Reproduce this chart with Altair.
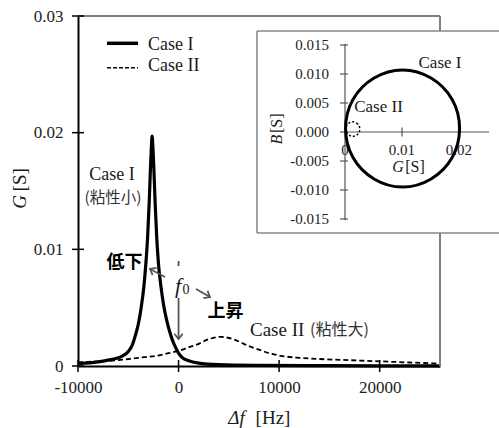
import altair as alt
import pandas as pd

# ---------------- data ----------------
# Main plot: conductance G [S] versus frequency shift Δf [Hz]
case1_f = [-10000, -8000, -7000, -6000, -5500, -5000, -4600, -4300, -4000, -3700, -3450, -3250,
           -3080, -2920, -2800, -2700, -2630, -2560, -2450, -2330, -2170, -2000, -1750, -1500,
           -1200, -900, -600, -300, 0, 400, 1000, 2000, 4000, 8000, 15000, 26000]
case1_g = [0.0002, 0.00035, 0.0005, 0.0007, 0.0009, 0.00125, 0.0018, 0.0026, 0.0036, 0.0051,
           0.0068, 0.0088, 0.0110, 0.0140, 0.0168, 0.0188, 0.0197, 0.0189, 0.0168, 0.0140,
           0.0110, 0.0088, 0.0068, 0.0053, 0.0040, 0.0030, 0.0022, 0.0016, 0.0011, 0.0007,
           0.00045, 0.00025, 0.00012, 0.00006, 0.00003, 0.00001]
case2_f = [-10000, -8000, -6000, -4000, -2000, -1000, 0, 1000, 2000, 3000, 4200, 5000, 6000,
           7000, 8000, 9000, 10000, 12000, 14000, 17000, 20000, 23000, 26000]
case2_g = [0.0003, 0.0004, 0.0005, 0.0007, 0.0009, 0.0011, 0.0013, 0.0016, 0.0019, 0.0023,
           0.0025, 0.0024, 0.0021, 0.0017, 0.0014, 0.0011, 0.0009, 0.0007, 0.0006, 0.0005,
           0.0004, 0.0003, 0.0002]

# Inset: admittance circles, B [S] versus G [S]
circ1_G = [0.0201, 0.0188, 0.0151, 0.0101, 0.0051, 0.0014, 0.0001, 0.0014, 0.0051, 0.0101, 0.0151, 0.0188]
circ1_B = [0.0006, 0.0056, 0.0093, 0.0107, 0.0093, 0.0056, 0.0006, -0.0044, -0.0081, -0.0095, -0.0081, -0.0044]
circ2_G = [0.0026, 0.00223, 0.00135, 0.00047, 0.0001, 0.00047, 0.00135, 0.00223]
circ2_B = [0.0005, 0.00138, 0.00175, 0.00138, 0.0005, -0.00038, -0.00075, -0.00038]

# tick values / labels
x_ticks = [-10000, 0, 10000, 20000]
y_ticks = [0, 0.01, 0.02, 0.03]
inset_y_ticks = [-0.015, -0.01, -0.005, 0, 0.005, 0.01, 0.015]
inset_y_labels = ["-0.015", "-0.010", "-0.005", "0.000", "0.005", "0.010", "0.015"]
inset_x_ticks = [0.01, 0.02]
inset_x_label_vals = [0, 0.01, 0.02]
inset_x_labels = ["0", "0.01", "0.02"]

SERIF = "Liberation Serif"
CJK = "Noto Sans CJK JP"
INK = "#1a1a1a"
ARROW = "#555555"

XS = alt.Scale(domain=[-10000, 26000], nice=False, zero=False)
YS = alt.Scale(domain=[0, 0.03], nice=False, zero=False)
XI = alt.Scale(domain=[-0.046842, 0.016667], nice=False, zero=False)
YI = alt.Scale(domain=[-0.040345, 0.02], nice=False, zero=False)

XAX = alt.Axis(values=x_ticks, labelExpr="'' + datum.value", ticks=False, tickSize=0,
               labelPadding=13, labelFont=SERIF, labelFontSize=17, labelColor="#222",
               domainColor="black", domainWidth=2, grid=False, title=None,
               labelFlush=False, labelOverlap=False)
YAX = alt.Axis(values=y_ticks, labelExpr="'' + datum.value", ticks=False, tickSize=0,
               labelPadding=15, labelFont=SERIF, labelFontSize=17, labelColor="#222",
               domainColor="black", domainWidth=2, grid=False, title=None,
               labelFlush=False, labelOverlap=False)


def mx(f):
    return alt.X(f, type="quantitative", scale=XS, axis=XAX)


def my(f):
    return alt.Y(f, type="quantitative", scale=YS, axis=YAX)


def ix(f):
    return alt.X(f, type="quantitative", scale=XI, axis=None)


def iy(f):
    return alt.Y(f, type="quantitative", scale=YI, axis=None)


# ---------------- main plot ----------------
df1 = pd.DataFrame({"f": case1_f, "g": case1_g})
df2 = pd.DataFrame({"f": case2_f, "g": case2_g})

line2 = alt.Chart(df2).mark_line(color="black", strokeWidth=1.8, strokeDash=[5, 3],
                                 interpolate="monotone").encode(x=mx("f"), y=my("g"))
line1 = alt.Chart(df1).mark_line(color="black", strokeWidth=3.2, interpolate="monotone").encode(
    x=mx("f"), y=my("g"))

frame_df = pd.DataFrame({"x": [-10000, 26000], "y": [0.03, 0.0],
                         "x2": [26000, 26000], "y2": [0.03, 0.03]})
frame = alt.Chart(frame_df).mark_rule(color="#808080", strokeWidth=2).encode(
    x=mx("x"), y=my("y"), x2="x2:Q", y2="y2:Q")

xt = alt.Chart(pd.DataFrame({"x": x_ticks, "y": [0] * len(x_ticks)})).mark_tick(
    orient="vertical", size=12, thickness=1.5, color="black", opacity=1).encode(x=mx("x"), y=my("y"))
yt = alt.Chart(pd.DataFrame({"x": [-10000] * len(y_ticks), "y": y_ticks})).mark_tick(
    orient="horizontal", size=12, thickness=1.5, color="black", opacity=1).encode(x=mx("x"), y=my("y"))

# legend
leg_df = pd.DataFrame({"x": [-7116, -7116], "x2": [-4033, -4033], "y": [0.02766, 0.02557]})
leg_solid = alt.Chart(leg_df.iloc[[0]]).mark_rule(color="black", strokeWidth=3.5).encode(
    x=mx("x"), x2="x2:Q", y=my("y"))
leg_dash = alt.Chart(leg_df.iloc[[1]]).mark_rule(color="black", strokeWidth=1.6, strokeDash=[4, 2]).encode(
    x=mx("x"), x2="x2:Q", y=my("y"))
leg_txt = alt.Chart(pd.DataFrame({"x": [-3039, -3039], "y": [0.02751, 0.02571],
                                  "t": ["Case I", "Case II"]})).mark_text(
    align="left", font=SERIF, fontSize=18, color=INK).encode(x=mx("x"), y=my("y"), text="t:N")


def txt(rows, **kw):
    d = pd.DataFrame(rows, columns=["x", "y", "t"])
    return alt.Chart(d).mark_text(**kw).encode(x=mx("x"), y=my("y"), text="t:N")


ann_case1 = txt([[-6619, 0.01640, "Case I"]], font=SERIF, fontSize=18, color=INK)
ann_case1b = txt([[-6519, 0.01440, "(粘性小)"]], font=CJK, fontSize=15.5, color="#333")
ann_case2 = txt([[7105, 0.00309, "Case II"]], font=SERIF, fontSize=19, color=INK, align="left")
ann_case2b = txt([[13072, 0.00309, "(粘性大)"]], font=CJK, fontSize=16, color="#333", align="left")
ann_bold = txt([[-5376, 0.00879, "低下"], [4669, 0.00459, "上昇"]], font=CJK, fontSize=18,
               fontWeight="bold", color="black")
ann_f = txt([[-55, 0.00686, "f"]], font=SERIF, fontSize=22, fontStyle="italic", color=INK)
ann_f0 = txt([[740, 0.00650, "0"]], font=SERIF, fontSize=14, color=INK)

# axis titles
tit_G = txt([[-15768, 0.01406, "G"]], font=SERIF, fontSize=19, fontStyle="italic", color=INK, angle=270)
tit_S = txt([[-15768, 0.01596, "[S]"]], font=SERIF, fontSize=19, color=INK, angle=270)
tit_df = txt([[5762, -0.00446, "Δf"]], font=SERIF, fontSize=19, fontStyle="italic", color=INK)
tit_hz = txt([[9392, -0.00446, "[Hz]"]], font=SERIF, fontSize=19, color=INK)

# arrows
arr_df = pd.DataFrame({
    "x": [-1348, 1735, 0, 0], "y": [0.00763, 0.0066, 0.00583, 0.00900],
    "x2": [-2840, 3127, 0, 0], "y2": [0.00831, 0.00591, 0.00231, 0.00857],
})
arr_lines = alt.Chart(arr_df).mark_rule(color=ARROW, strokeWidth=1.8).encode(
    x=mx("x"), y=my("y"), x2="x2:Q", y2="y2:Q")
CHEV = "M -1 -0.8 L 0 0 L -1 0.8"
head_df = pd.DataFrame({"x": [-2840, 3127, 0], "y": [0.00831, 0.00591, 0.00231], "a": [208, 30, 90]})
arr_heads = alt.Chart(head_df).mark_point(shape=CHEV, filled=False, size=110, strokeWidth=1.8,
                                          color=ARROW, opacity=1).encode(
    x=mx("x"), y=my("y"), angle=alt.Angle("a:Q", scale=None))

main = alt.layer(line2, line1, frame, xt, yt, leg_solid, leg_dash, leg_txt,
                 ann_case1, ann_case1b, ann_case2, ann_case2b, ann_bold, ann_f, ann_f0,
                 tit_G, tit_S, tit_df, tit_hz, arr_lines, arr_heads)

# ---------------- inset ----------------
BOX_L, BOX_R, BOX_B, BOX_T = -0.01544, 0.036, -0.017414, 0.017414
box = alt.Chart(pd.DataFrame({"g1": [BOX_L], "g2": [BOX_R], "b1": [BOX_B], "b2": [BOX_T]})).mark_rect(
    fill="white", strokeWidth=0).encode(x=ix("g1"), x2="g2:Q", y=iy("b1"), y2="b2:Q")
# top and bottom edges of the inset frame, drawn as open lines
edge_df = pd.DataFrame({"g": [BOX_L, BOX_R, BOX_L, BOX_R],
                        "b": [BOX_T, BOX_T, BOX_B, BOX_B],
                        "e": ["top", "top", "bottom", "bottom"]})
box_tb = alt.Chart(edge_df).mark_line(color="#888888", strokeWidth=1.6).encode(
    x=ix("g"), y=iy("b"), detail="e:N")
box_left = alt.Chart(pd.DataFrame({"g1": [BOX_L], "b1": [BOX_B], "b2": [BOX_T]})).mark_rule(
    color="#888888", strokeWidth=1.6).encode(x=ix("g1"), y=iy("b1"), y2="b2:Q")

iaxes = alt.Chart(pd.DataFrame({"g1": [0, 0], "g2": [0, 0.0253], "b1": [-0.0152, 0], "b2": [0.0152, 0]})).mark_rule(
    color="#555", strokeWidth=1.2).encode(x=ix("g1"), x2="g2:Q", y=iy("b1"), y2="b2:Q")
iyt = alt.Chart(pd.DataFrame({"g": [-0.00018] * len(inset_y_ticks), "b": inset_y_ticks})).mark_tick(
    orient="horizontal", size=8, thickness=1.2, color="#555", opacity=1).encode(x=ix("g"), y=iy("b"))
ixt = alt.Chart(pd.DataFrame({"g": inset_x_ticks, "b": [0] * len(inset_x_ticks)})).mark_tick(
    orient="vertical", size=9, thickness=1.2, color="#555", opacity=1).encode(x=ix("g"), y=iy("b"))


def itxt(rows, **kw):
    d = pd.DataFrame(rows, columns=["x", "y", "t"])
    return alt.Chart(d).mark_text(**kw).encode(x=ix("x"), y=iy("y"), text="t:N")


iyl = itxt([[-0.0028, v, t] for v, t in zip(inset_y_ticks, inset_y_labels)],
           font=SERIF, fontSize=15, color="#222", align="right")
ixl = itxt([[v, -0.0031, t] for v, t in zip(inset_x_label_vals, inset_x_labels)],
           font=SERIF, fontSize=15, color="#222")
i_tG = itxt([[0.0093, -0.00598, "G"]], font=SERIF, fontSize=16, fontStyle="italic", color=INK)
i_tS = itxt([[0.01228, -0.00598, "[S]"]], font=SERIF, fontSize=16, color=INK)
i_tB = itxt([[-0.01198, -0.00133, "B"]], font=SERIF, fontSize=16, fontStyle="italic", color=INK, angle=270)
i_tBS = itxt([[-0.01198, 0.0015, "[S]"]], font=SERIF, fontSize=16, color=INK, angle=270)
i_c1 = itxt([[0.01667, 0.01195, "Case I"]], font=SERIF, fontSize=17, color=INK)
i_c2 = itxt([[0.00588, 0.00431, "Case II"]], font=SERIF, fontSize=17, color=INK)

cdf1 = pd.DataFrame({"g": circ1_G, "b": circ1_B, "i": list(range(len(circ1_G)))})
cdf2 = pd.DataFrame({"g": circ2_G, "b": circ2_B, "i": list(range(len(circ2_G)))})
circ1 = alt.Chart(cdf1).mark_line(color="black", strokeWidth=3, interpolate="cardinal-closed").encode(
    x=ix("g"), y=iy("b"), order="i:Q")
circ2 = alt.Chart(cdf2).mark_line(color="black", strokeWidth=1.5, strokeDash=[2, 2],
                                  interpolate="cardinal-closed").encode(x=ix("g"), y=iy("b"), order="i:Q")

inset = alt.layer(box, box_tb, box_left, iaxes, iyt, ixt, iyl, ixl, i_tG, i_tS, i_tB, i_tBS,
                  i_c1, i_c2, circ1, circ2)

chart = alt.layer(main, inset).resolve_scale(x="independent", y="independent").properties(
    width=362, height=350,
    padding={"left": 78, "top": 16, "right": 59, "bottom": 62},
    autosize=alt.AutoSizeParams(type="none"),
    background="white",
).configure_view(stroke=None)

chart.save("out.html", embed_options={"renderer": "svg", "actions": False})
